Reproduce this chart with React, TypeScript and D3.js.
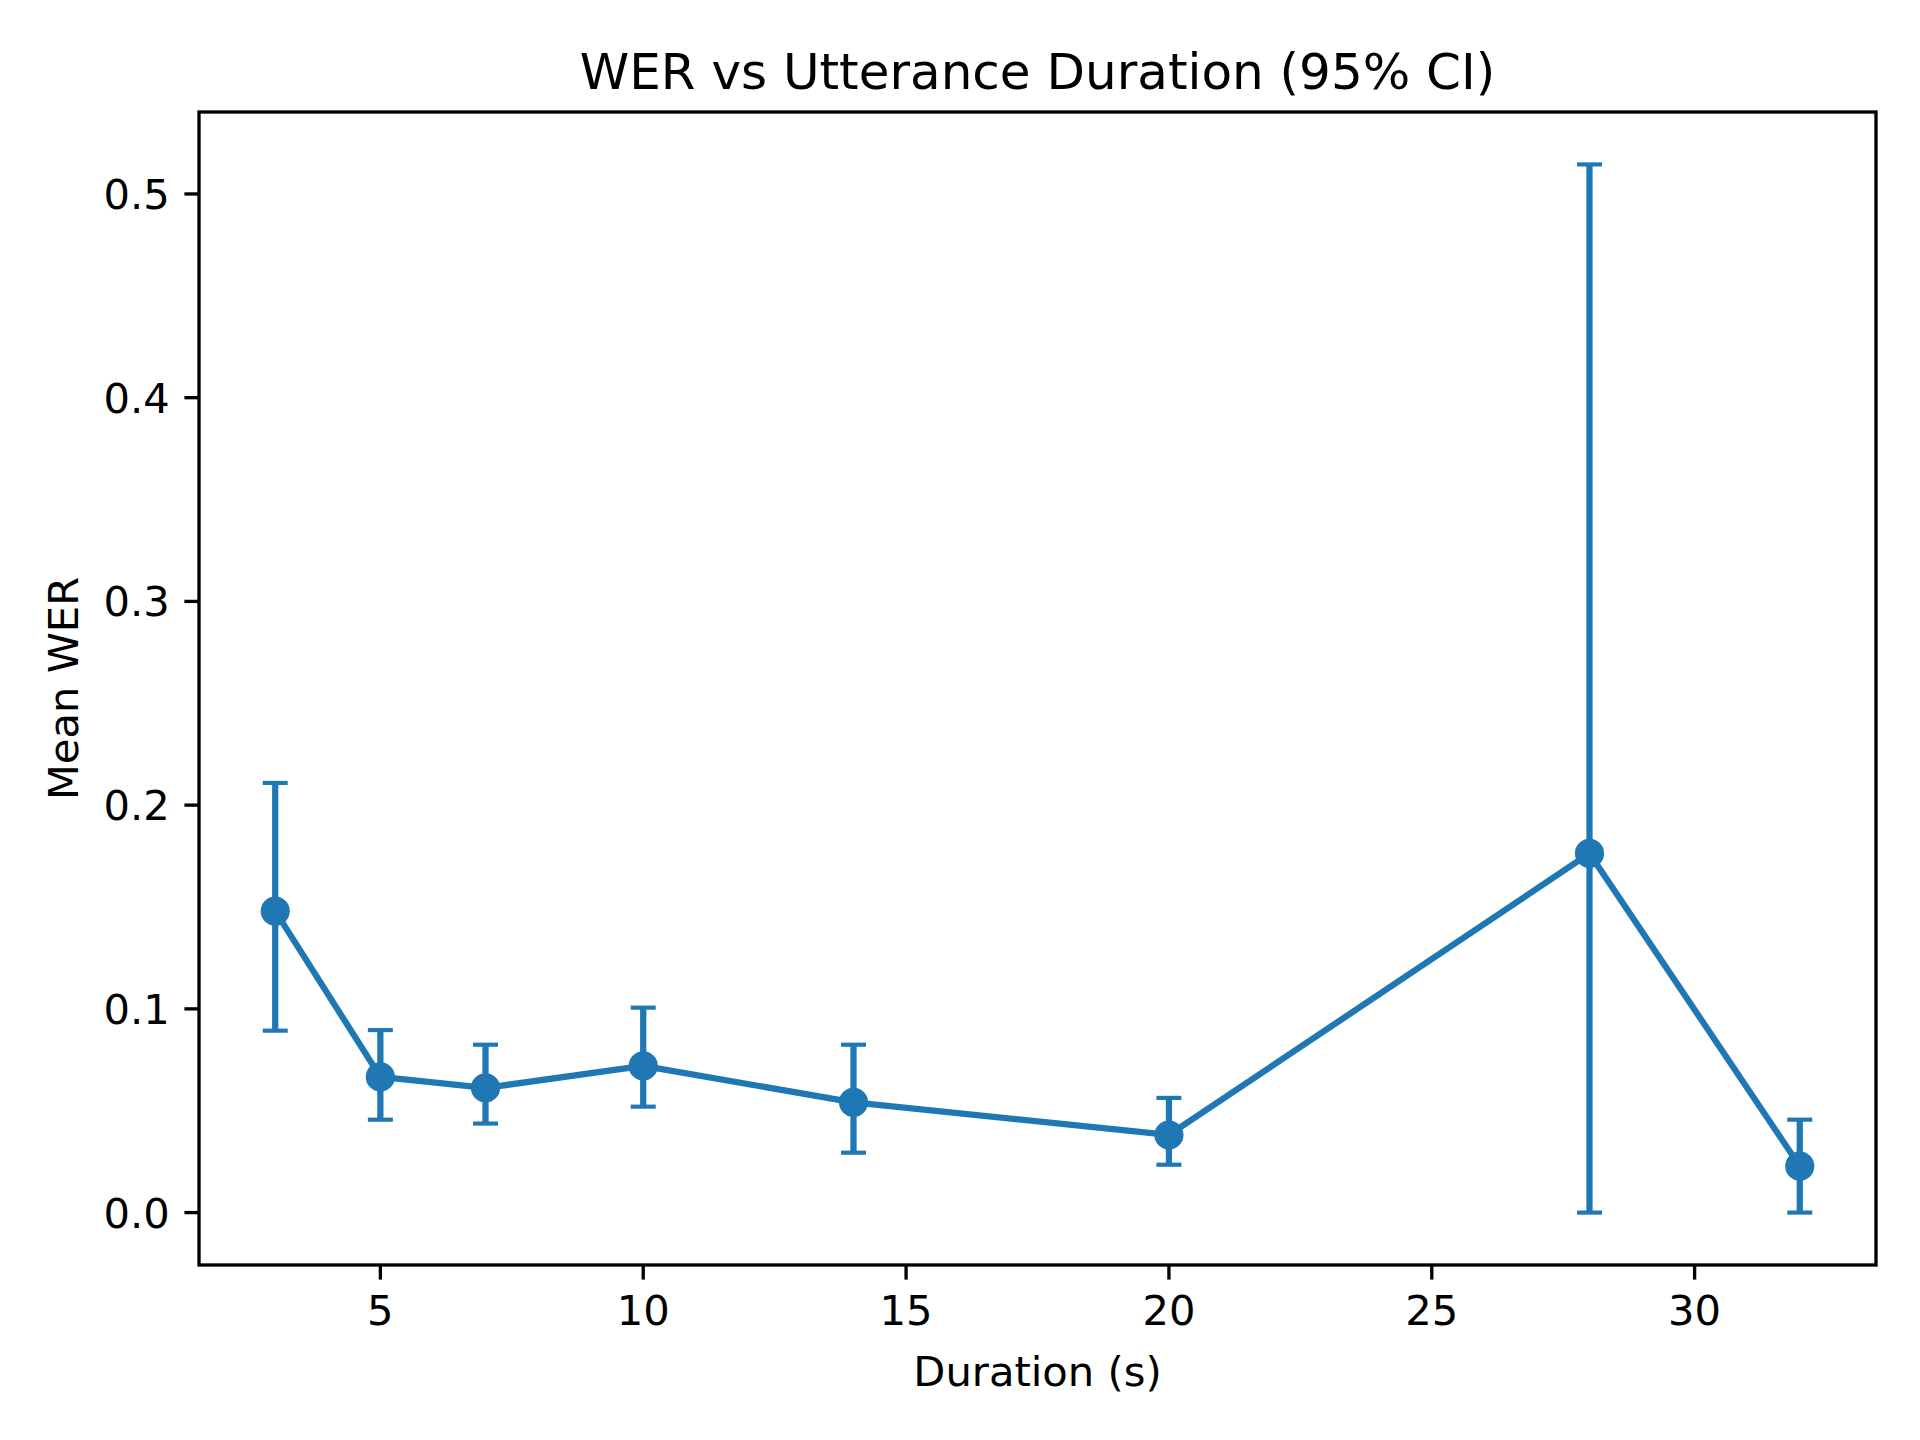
import React, { useEffect, useRef } from 'react';
import * as d3 from 'd3';

// data
const durations = [3, 5, 7, 10, 14, 20, 28, 32];
const meanWer = [0.148, 0.0666, 0.0612, 0.072, 0.0541, 0.0381, 0.1763, 0.0228];
const ciLow = [0.0893, 0.0456, 0.0437, 0.052, 0.0294, 0.0235, 0.0, 0.0];
const ciHigh = [0.2109, 0.0896, 0.0824, 0.1006, 0.0824, 0.0563, 0.5145, 0.0456];

const xTicks = [5, 10, 15, 20, 25, 30];
const yTicks = [0, 0.1, 0.2, 0.3, 0.4, 0.5];

const BLUE = '#1f77b4';
const FONT = '"DejaVu Sans", sans-serif';

export default function App() {
  const svgRef = useRef<SVGSVGElement>(null);

  useEffect(() => {
    if (!svgRef.current) return;
    const svg = d3.select(svgRef.current);
    svg.selectAll('*').remove();

    const W = 1920;
    const H = 1440;
    const plot = { left: 199, right: 1876, top: 112, bottom: 1265 };
    const lw = 3.33; // 0.8pt at 300dpi
    const tickLen = 14.6;

    // matplotlib style 5% margins
    const [x0, x1] = d3.extent(durations) as [number, number];
    const xPad = (x1 - x0) * 0.05;
    const y0 = d3.min(ciLow) as number;
    const y1 = d3.max(ciHigh) as number;
    const yPad = (y1 - y0) * 0.05;

    const x = d3.scaleLinear().domain([x0 - xPad, x1 + xPad]).range([plot.left, plot.right]);
    const y = d3.scaleLinear().domain([y0 - yPad, y1 + yPad]).range([plot.bottom, plot.top]);

    svg.attr('width', W).attr('height', H);
    svg.append('rect').attr('width', W).attr('height', H).attr('fill', '#fff');

    const pts = durations.map((d, i) => ({ d, m: meanWer[i], lo: ciLow[i], hi: ciHigh[i] }));

    // connecting line
    const line = d3.line<{ d: number; m: number }>()
      .x(p => x(p.d))
      .y(p => y(p.m));
    svg.append('path')
      .datum(pts)
      .attr('d', line as any)
      .attr('fill', 'none')
      .attr('stroke', BLUE)
      .attr('stroke-width', 6.25)
      .attr('stroke-linejoin', 'round')
      .attr('stroke-linecap', 'butt');

    // error bars
    const eb = svg.append('g');
    eb.selectAll('line.bar')
      .data(pts)
      .join('line')
      .attr('class', 'bar')
      .attr('x1', p => x(p.d))
      .attr('x2', p => x(p.d))
      .attr('y1', p => y(p.lo))
      .attr('y2', p => y(p.hi))
      .attr('stroke', BLUE)
      .attr('stroke-width', 6.25);

    const capHalf = 12.5;
    const caps = pts.flatMap(p => [{ d: p.d, v: p.lo }, { d: p.d, v: p.hi }]);
    eb.selectAll('line.cap')
      .data(caps)
      .join('line')
      .attr('class', 'cap')
      .attr('x1', c => x(c.d) - capHalf)
      .attr('x2', c => x(c.d) + capHalf)
      .attr('y1', c => y(c.v))
      .attr('y2', c => y(c.v))
      .attr('stroke', BLUE)
      .attr('stroke-width', 4.17);

    // markers
    svg.append('g')
      .selectAll('circle')
      .data(pts)
      .join('circle')
      .attr('cx', p => x(p.d))
      .attr('cy', p => y(p.m))
      .attr('r', 12.5)
      .attr('fill', BLUE)
      .attr('stroke', BLUE)
      .attr('stroke-width', 4.17);

    // x axis ticks
    const xt = svg.append('g');
    xTicks.forEach(t => {
      xt.append('line')
        .attr('x1', x(t)).attr('x2', x(t))
        .attr('y1', plot.bottom).attr('y2', plot.bottom + tickLen)
        .attr('stroke', '#000').attr('stroke-width', lw);
      xt.append('text')
        .attr('x', x(t))
        .attr('y', plot.bottom + tickLen + 14.6 + 31)
        .attr('text-anchor', 'middle')
        .attr('font-family', FONT)
        .attr('font-size', 41.67)
        .text(d3.format('d')(t));
    });

    // y axis ticks
    const yt = svg.append('g');
    yTicks.forEach(t => {
      yt.append('line')
        .attr('x1', plot.left - tickLen).attr('x2', plot.left)
        .attr('y1', y(t)).attr('y2', y(t))
        .attr('stroke', '#000').attr('stroke-width', lw);
      yt.append('text')
        .attr('x', plot.left - tickLen - 14.6)
        .attr('y', y(t))
        .attr('dy', '0.36em')
        .attr('text-anchor', 'end')
        .attr('font-family', FONT)
        .attr('font-size', 41.67)
        .text(d3.format('.1f')(t));
    });

    // spines
    svg.append('rect')
      .attr('x', plot.left)
      .attr('y', plot.top)
      .attr('width', plot.right - plot.left)
      .attr('height', plot.bottom - plot.top)
      .attr('fill', 'none')
      .attr('stroke', '#000')
      .attr('stroke-width', lw)
      .attr('stroke-linejoin', 'miter');

    // title and axis labels
    svg.append('text')
      .attr('x', (plot.left + plot.right) / 2)
      .attr('y', plot.top - 23)
      .attr('text-anchor', 'middle')
      .attr('font-family', FONT)
      .attr('font-size', 50)
      .text('WER vs Utterance Duration (95% CI)');

    svg.append('text')
      .attr('x', (plot.left + plot.right) / 2)
      .attr('y', 1386)
      .attr('text-anchor', 'middle')
      .attr('font-family', FONT)
      .attr('font-size', 41.67)
      .text('Duration (s)');

    svg.append('text')
      .attr('transform', `translate(78,${(plot.top + plot.bottom) / 2}) rotate(-90)`)
      .attr('text-anchor', 'middle')
      .attr('font-family', FONT)
      .attr('font-size', 41.67)
      .text('Mean WER');
  }, []);

  return (
    <div style={{ position: 'absolute', left: 0, top: 0 }}>
      <svg ref={svgRef} style={{ display: 'block' }} />
    </div>
  );
}
